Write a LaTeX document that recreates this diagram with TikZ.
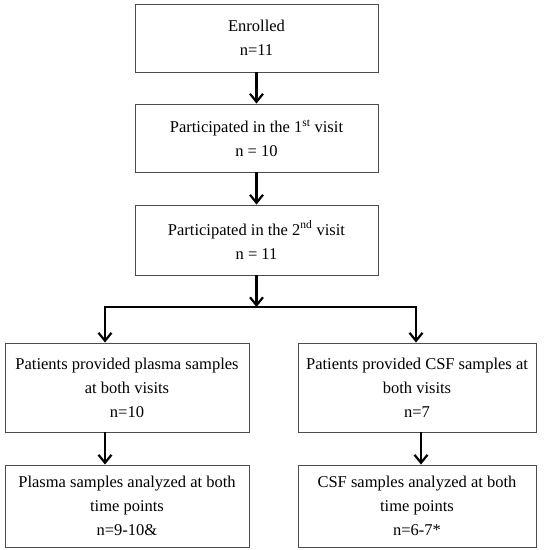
\documentclass[tikz,border=0pt]{standalone}
\usepackage{fontspec}
\setmainfont{Liberation Serif}
\usetikzlibrary{arrows.meta,positioning}
\tikzset{
  stagebox/.style={draw=black!70,line width=0.9pt,align=center,inner sep=0pt,
    font=\fontsize{16.5}{24}\selectfont},
  flowarr/.style={line width=2.4pt,-{Straight Barb[length=8pt,width=13pt,line width=2.2pt]}}
}
\begin{document}
\begin{tikzpicture}[x=1pt,y=-1pt]
  \useasboundingbox (0,0) rectangle (544,550);
  \node[stagebox,minimum width=243pt,minimum height=68pt] (enrol) at (256.5,38) {Enrolled\\n=11};
  \node[stagebox,minimum width=243pt,minimum height=68pt] (visit1) at (256.5,138) {Participated in the 1\textsuperscript{st} visit\\n = 10};
  \node[stagebox,minimum width=243pt,minimum height=70pt] (visit2) at (256.5,240) {Participated in the 2\textsuperscript{nd} visit\\n = 11};
  \node[stagebox,minimum width=244pt,minimum height=89pt] (plasma) at (127,387.5) {Patients provided plasma samples\\at both visits\\n=10};
  \node[stagebox,minimum width=238pt,minimum height=89pt] (csf) at (417,387.5) {Patients provided CSF samples at\\both visits\\n=7};
  \node[stagebox,minimum width=244pt,minimum height=82pt] (plasmaan) at (127,506) {Plasma samples analyzed at both\\time points\\n=9-10\&};
  \node[stagebox,minimum width=238pt,minimum height=82pt] (csfan) at (417,506) {CSF samples analyzed at both\\time points\\n=6-7*};
  \coordinate (split) at (256.5,307);
  \coordinate (lsplit) at (105,307);
  \coordinate (rsplit) at (416,307);
  \coordinate (csfdrop) at (421,0);
  \draw[flowarr] (enrol) -- (visit1);
  \draw[flowarr] (visit1) -- (visit2);
  \draw[flowarr] (visit2) -- (split);
  \draw[line width=2.4pt,line cap=rect] (lsplit) -- (rsplit);
  \draw[flowarr] (lsplit) -- (lsplit |- plasma.north);
  \draw[flowarr] (rsplit) -- (rsplit |- csf.north);
  \draw[flowarr] (plasma.south -| lsplit) -- (plasmaan.north -| lsplit);
  \draw[flowarr] (csf.south -| csfdrop) -- (csfan.north -| csfdrop);
\end{tikzpicture}
\end{document}
